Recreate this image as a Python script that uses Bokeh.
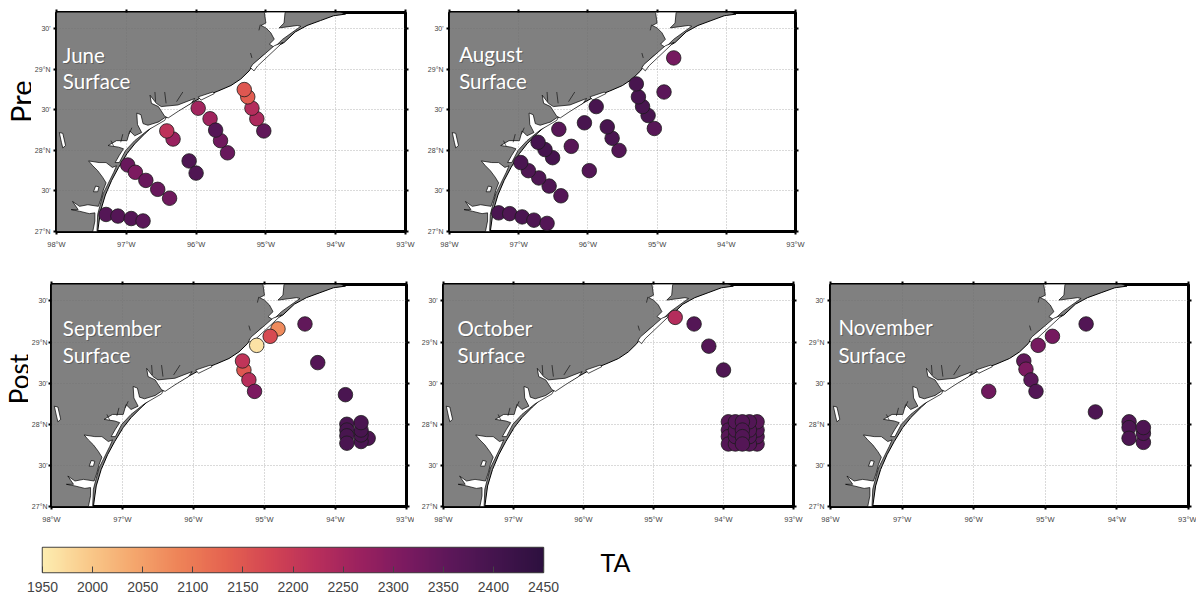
import math
import numpy as np
from bokeh.embed import file_html
from bokeh.layouts import column, row
from bokeh.models import (ColumnDataSource, FixedTicker, Label, LinearAxis,
                          LinearColorMapper, Range1d)
from bokeh.plotting import figure
from bokeh.resources import INLINE

# ---------------- station data (lon, lat, total alkalinity) ----------------
june_lon = [-97.29, -97.12, -96.93, -96.76, -96.98, -96.87, -96.72, -96.55, -96.38, -96.33, -96.42,
            -95.97, -95.80, -95.55, -95.65, -95.72, -96.10, -96.00, -95.03, -95.13, -95.20, -95.26, -95.31]
june_lat = [27.21, 27.19, 27.16, 27.13, 27.82, 27.73, 27.63, 27.52, 27.41, 28.14, 28.24,
            28.52, 28.39, 27.97, 28.12, 28.25, 27.87, 27.72, 28.24, 28.39, 28.52, 28.66, 28.75]
june_ta = [2370, 2370, 2370, 2360, 2340, 2310, 2340, 2340, 2330, 2270, 2215,
           2255, 2260, 2340, 2330, 2370, 2380, 2380, 2350, 2240, 2230, 2140, 2150]

august_lon = [-97.29, -97.13, -96.95, -96.78, -96.59, -96.39, -96.56, -96.71, -96.86, -96.97, -96.51, -96.62, -96.72,
              -96.42, -96.24, -96.05, -95.88, -95.98, -95.55, -95.65, -95.72, -95.04, -95.13, -95.21, -95.27, -95.30,
              -94.90, -94.76]
august_lat = [27.23, 27.22, 27.18, 27.14, 27.10, 27.44, 27.56, 27.66, 27.75, 27.85, 27.91, 28.01, 28.10,
              28.26, 28.05, 28.34, 28.54, 27.75, 28.00, 28.15, 28.29, 28.27, 28.43, 28.54, 28.66, 28.82,
              28.72, 29.14]
august_ta = [2390, 2380, 2390, 2380, 2370, 2370, 2380, 2380, 2380, 2390, 2400, 2400, 2400,
             2365, 2365, 2395, 2395, 2370, 2370, 2390, 2395, 2365, 2395, 2395, 2395, 2395,
             2360, 2320]

september_lon = [-94.43, -94.81, -94.92, -95.11, -94.25, -95.29, -95.31, -95.22, -95.14, -93.86,
                 -93.54, -93.64, -93.64, -93.64, -93.64, -93.84, -93.84, -93.84, -93.84]
september_lat = [29.22, 29.16, 29.07, 28.96, 28.75, 28.66, 28.77, 28.54, 28.40, 28.36,
                 27.83, 27.79, 27.87, 27.93, 28.02, 28.00, 27.93, 27.86, 27.77]
september_ta = [2350, 2075, 2170, 1965, 2370, 2150, 2210, 2225, 2310, 2390,
                2385, 2390, 2395, 2395, 2390, 2390, 2395, 2395, 2390]

october_lon = [-94.69, -94.42, -94.21, -94.00,
               -93.93, -93.93, -93.93, -93.93, -93.52, -93.52, -93.52, -93.52,
               -93.63, -93.63, -93.63, -93.63, -93.83, -93.83, -93.83, -93.83,
               -93.73, -93.73, -93.73, -93.73]
october_lat = [29.30, 29.22, 28.95, 28.66,
               28.03, 27.93, 27.85, 27.76, 27.76, 27.85, 27.93, 28.03,
               27.76, 27.85, 27.93, 28.03, 27.76, 27.85, 27.93, 28.03,
               28.03, 27.93, 27.85, 27.76]
october_ta = [2230, 2370, 2370, 2380,
              2365, 2370, 2365, 2370, 2365, 2370, 2370, 2365,
              2370, 2375, 2370, 2375, 2365, 2375, 2370, 2370,
              2370, 2375, 2375, 2370]

november_lon = [-94.43, -94.90, -95.10, -95.30, -95.27, -95.20, -95.13, -95.79, -94.30,
                -93.83, -93.83, -93.83, -93.63, -93.63, -93.63]
november_lat = [29.22, 29.07, 28.96, 28.77, 28.67, 28.54, 28.40, 28.40, 28.15,
                28.03, 27.96, 27.83, 27.78, 27.89, 27.96]
november_ta = [2375, 2320, 2320, 2350, 2310, 2360, 2375, 2330, 2385,
               2375, 2385, 2385, 2375, 2385, 2385]

# ---------------- Texas coast (lon, lat) ----------------
land_lon = [-98, -98, -94.05, -93.86, -94.03, -94.22, -94.41, -94.58, -94.74, -94.91, -95.07, -95.18, -95.24,
            -95.36, -95.50, -95.69, -95.93, -96.12, -96.26, -96.42, -96.59, -96.73, -96.88, -96.99, -97.11,
            -97.21, -97.30, -97.37, -97.41, -97.41]
land_lat = [27, 29.75, 29.75, 29.68, 29.66, 29.60, 29.54, 29.46, 29.33, 29.25, 29.15, 29.06, 28.98,
            28.88, 28.80, 28.73, 28.65, 28.56, 28.49, 28.41, 28.32, 28.21, 28.08, 27.96, 27.79,
            27.63, 27.45, 27.25, 27.00, 27.0]

laguna_lon = [-97.42, -97.41, -97.38, -97.33, -97.26, -97.18, -97.14, -97.20, -97.29, -97.39, -97.54, -97.48, -97.41,
              -97.34, -97.29, -97.33, -97.36, -97.40, -97.55, -97.67, -97.77, -97.69, -97.79, -97.67, -97.53, -97.45,
              -97.45, -97.48]
laguna_lat = [27.00, 27.21, 27.31, 27.47, 27.59, 27.73, 27.81, 27.79, 27.85, 27.85, 27.87, 27.81, 27.75,
              27.67, 27.60, 27.51, 27.41, 27.31, 27.33, 27.31, 27.37, 27.27, 27.27, 27.25, 27.22, 27.23,
              27.13, 27.00]

copano_lon = [-97.10, -97.01, -96.88, -96.69, -96.45, -96.42, -96.54, -96.69, -96.76, -96.79, -96.85, -96.84, -96.78,
              -96.88, -96.95, -96.99, -97.14, -97.26, -97.11, -97.04, -97.10, -97.16]
copano_lat = [27.85, 28.00, 28.12, 28.25, 28.37, 28.42, 28.35, 28.31, 28.33, 28.44, 28.46, 28.32, 28.22,
              28.18, 28.24, 28.12, 28.12, 28.06, 28.04, 28.02, 27.94, 27.85]

matagorda_lon = [-96.66, -96.57, -96.50, -96.26, -96.02, -96.07, -96.26, -96.40, -96.45, -96.54, -96.64]
matagorda_lat = [28.68, 28.58, 28.54, 28.56, 28.64, 28.58, 28.48, 28.40, 28.42, 28.54, 28.58]

strip_lon = [-95.97, -95.76, -95.74, -95.93]
strip_lat = [28.66, 28.72, 28.70, 28.62]

galveston_lon = [-95.03, -94.72, -94.74, -94.81, -94.55, -94.50, -94.76, -94.88, -94.95, -94.88, -94.93, -95.00,
                 -95.07, -95.00]
galveston_lat = [29.75, 29.75, 29.57, 29.51, 29.54, 29.53, 29.37, 29.27, 29.31, 29.37, 29.45, 29.51,
                 29.54, 29.57]

westbay_lon = [-95.19, -94.88, -94.76, -95.12, -95.17, -95.22]
westbay_lat = [29.06, 29.29, 29.33, 29.04, 28.98, 29.02]

lake_lon = [-97.47, -97.44, -97.39, -97.41]
lake_lat = [27.49, 27.56, 27.55, 27.49]

island_lon = [-97.96, -97.91, -97.87, -97.91, -97.93]
island_lat = [28.22, 28.21, 28.06, 28.03, 28.10]

inlet_lon = [[-96.59, -96.58], [-96.45, -96.43], [-96.19, -96.28], [-97.22, -97.18], [-97.05, -97.08], [-96.92, -96.96],
             [-95.22, -95.20], [-95.08, -95.10]]
inlet_lat = [[28.72, 28.60], [28.72, 28.58], [28.72, 28.60], [28.12, 28.05], [28.20, 28.10], [28.28, 28.20],
             [29.20, 29.14], [29.55, 29.48]]

# ---------------- axes and colour bar labels ----------------
lon_ticks = [-98, -97, -96, -95, -94, -93]
lon_labels = ["98°W", "97°W", "96°W", "95°W", "94°W", "93°W"]
lat_ticks = [27, 27.5, 28, 28.5, 29, 29.5]
lat_labels = ["27°N", "30'", "28°N", "30'", "29°N", "30'"]
ta_ticks = [1950, 2000, 2050, 2100, 2150, 2200, 2250, 2300, 2350, 2400, 2450]

# ---------------- colours ----------------
stops = ["#fdedb0", "#f9c98a", "#f4a66d", "#ee8358", "#e56350", "#d34553", "#b92f5b",
         "#9a215f", "#7a1a60", "#5b1759", "#43144d", "#2d103f"]
_rgb = np.array([[int(s[i:i + 2], 16) for i in (1, 3, 5)] for s in stops], dtype=float)
_t = np.linspace(0, 1, len(stops))
_u = np.linspace(0, 1, 256)
palette = ["#%02x%02x%02x" % tuple(int(round(np.interp(u, _t, _rgb[:, c]))) for c in range(3)) for u in _u]
mapper = LinearColorMapper(palette=palette, low=1950, high=2450)

LAND = "#808080"
TOP_LAT = 29.70


def panel(lon, lat, ta, words, left, top, fw, fh, right, bottom, lab_lon, lab_lat, y_standoff=3):
    p = figure(width=left + fw + right, height=top + fh + bottom,
               x_range=Range1d(-98, -93), y_range=Range1d(27, TOP_LAT),
               min_border_left=left, min_border_right=right, min_border_top=top, min_border_bottom=bottom,
               toolbar_location=None, output_backend="svg", background_fill_color="white",
               outline_line_color="black", outline_line_width=3, x_axis_location=None, y_axis_location=None)

    def add_axis(where, ticks, overrides, size, standoff):
        ax = LinearAxis(ticker=FixedTicker(ticks=ticks), major_label_overrides=overrides)
        ax.axis_line_color = None
        ax.major_tick_line_color = "black"
        ax.major_tick_line_width = 2
        ax.major_tick_in = 0
        ax.major_tick_out = 3
        ax.minor_tick_line_color = None
        ax.major_label_standoff = standoff
        ax.major_label_text_font = "Liberation Sans"
        ax.major_label_text_font_size = size
        ax.major_label_text_color = "#444444"
        p.add_layout(ax, where)
        return ax

    add_axis("below", lon_ticks, dict(zip(lon_ticks, lon_labels)), "7.5px", 5)
    add_axis("left", lat_ticks, dict(zip(lat_ticks, lat_labels)), "7px", y_standoff)
    add_axis("above", lon_ticks, {t: "" for t in lon_ticks}, "1px", 0)
    add_axis("right", lat_ticks, {t: "" for t in lat_ticks}, "1px", 0)

    p.xgrid.ticker = FixedTicker(ticks=lon_ticks)
    p.ygrid.ticker = FixedTicker(ticks=lat_ticks)
    for g in (p.xgrid, p.ygrid):
        g.grid_line_color = "#6e6e6e"
        g.grid_line_dash = "1 2"
        g.grid_line_width = 1
        g.grid_line_alpha = 0.5

    p.patch(land_lon, land_lat, fill_color=LAND, line_color="black", line_width=1, level="image")
    p.patches([laguna_lon, copano_lon, matagorda_lon, strip_lon, galveston_lon, westbay_lon, lake_lon, island_lon],
              [laguna_lat, copano_lat, matagorda_lat, strip_lat, galveston_lat, westbay_lat, lake_lat, island_lat],
              fill_color="white", line_color="black", line_width=0.7, level="image")
    p.multi_line(inlet_lon, inlet_lat, line_color="black", line_width=0.6, level="image")

    src = ColumnDataSource(dict(lon=lon, lat=lat, ta=ta))
    p.scatter("lon", "lat", source=src, size=14.5, fill_color={"field": "ta", "transform": mapper},
              line_color="#1c1c1c", line_width=0.8)

    for word, ly in zip(words, lab_lat):
        p.add_layout(Label(x=lab_lon, y=ly, text=word, text_color="#303030", text_alpha=0.45, text_font="Lato",
                           text_font_size="20.5px", text_baseline="alphabetic", x_offset=1, y_offset=7))
        p.add_layout(Label(x=lab_lon, y=ly, text=word, text_color="white", text_font="Lato",
                           text_font_size="20.5px", text_baseline="alphabetic", y_offset=8))
    return p


def caption(text, width, height, x, y, size, angle=0.0):
    """A small blank figure that carries a text outside the map frames."""
    c = figure(width=width, height=height, x_range=Range1d(0, width), y_range=Range1d(0, height),
               min_border_left=0, min_border_right=0, min_border_top=0, min_border_bottom=0,
               toolbar_location=None, output_backend="svg", outline_line_color=None,
               x_axis_location=None, y_axis_location=None)
    c.grid.visible = False
    c.add_layout(Label(x=x, y=y, text=text, angle=angle, text_font="Lato", text_font_size=size,
                       text_color="black", text_align="center", text_baseline="alphabetic"))
    return c


pre = caption("Pre", 31, 270, 20, 160, "29px", math.pi / 2)
june = panel(june_lon, june_lat, june_ta, ["June", "Surface"], 23, 12, 351, 221, 14, 37, -97.91, [29.08, 28.76])
august = panel(august_lon, august_lat, august_ta, ["August", "Surface"], 30, 12, 346, 219, 14, 39, -97.86, [29.09, 28.76])
post = caption("Post", 28, 265, 18, 152, "26px", math.pi / 2)
september = panel(september_lon, september_lat, september_ta, ["September", "Surface"], 21, 11, 357, 225, 8, 29,
                  -97.84, [29.07, 28.74], y_standoff=1)
october = panel(october_lon, october_lat, october_ta, ["October", "Surface"], 29, 13, 350, 223, 12, 29,
                -97.80, [29.07, 28.74])
november = panel(november_lon, november_lat, november_ta, ["November", "Surface"], 25, 14, 358, 225, 8, 26,
                 -97.89, [29.08, 28.75])

# colour bar
bar = figure(width=559, height=61, x_range=Range1d(1950, 2450), y_range=Range1d(0, 1),
             min_border_left=42, min_border_right=16, min_border_top=12, min_border_bottom=24,
             toolbar_location=None, output_backend="svg", outline_line_color="#444444", outline_line_width=1.5,
             x_axis_location=None, y_axis_location=None)
bar.grid.visible = False
bar.image(image=[np.linspace(1950, 2450, 256).reshape(1, -1)], x=1950, y=0, dw=500, dh=1, color_mapper=mapper)
cax = LinearAxis(ticker=FixedTicker(ticks=ta_ticks))
cax.axis_line_color = None
cax.minor_tick_line_color = None
cax.major_tick_in = 6
cax.major_tick_out = 0
cax.major_tick_line_color = "#444444"
cax.major_tick_line_width = 1
cax.major_label_standoff = 9
cax.major_label_text_font = "Liberation Sans"
cax.major_label_text_font_size = "14px"
cax.major_label_text_color = "#444444"
bar.add_layout(cax, "below")
ta_label = caption("TA", 120, 61, 56, 25, "25px")

page = column(row(pre, june, august, spacing=0), row(post, september, october, november, spacing=0),
              row(bar, ta_label, spacing=0), spacing=0)
open("out.html", "w").write(file_html(page, INLINE))
